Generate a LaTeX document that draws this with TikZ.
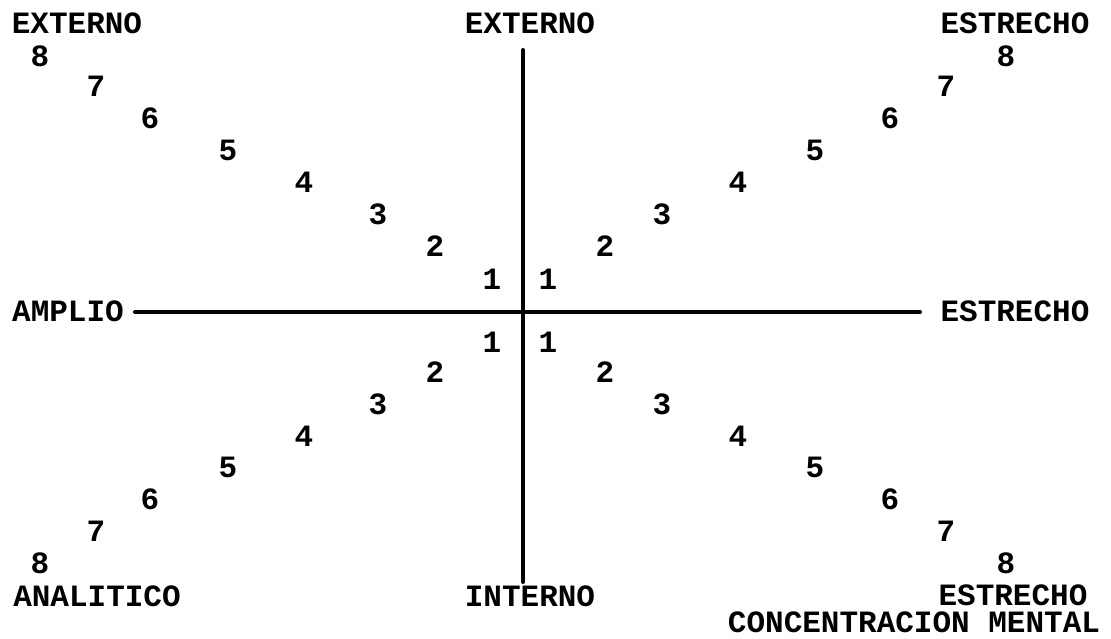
\documentclass[tikz,border=0pt]{standalone}
\usepackage{fontspec}
\setmonofont{Liberation Mono}
\usepackage{tikz}

\tikzset{
  lbl/.style={font=\ttfamily\bfseries\fontsize{31}{31}\selectfont, inner sep=0pt, text height=18pt, text depth=0pt},
  axis/.style={line width=4pt, line cap=round}
}

\begin{document}
\begin{tikzpicture}[x=1pt, y=-1pt, line cap=round, line join=round]
\useasboundingbox (0,0) rectangle (1111,639);

% axes
\coordinate (top) at (523,50);
\coordinate (bot) at (523,582);
\coordinate (lft) at (135,312);
\coordinate (rgt) at (920,312);
\draw[axis] (top)--(bot);
\draw[axis] (lft)--(rgt);

% labels
\node[lbl] (extl) at (77,25) {EXTERNO};
\node[lbl] (extc) at (530,25) {EXTERNO};
\node[lbl] (estr) at (1015,25) {ESTRECHO};
\node[lbl] (ampl) at (68,312) {AMPLIO};
\node[lbl] (estm) at (1015,312) {ESTRECHO};
\node[lbl] (anal) at (97,597) {ANALITICO};
\node[lbl] (intc) at (530,597) {INTERNO};
\node[lbl] (estb) at (1013,596) {ESTRECHO};
\node[lbl] (conc) at (914,623) {CONCENTRACION MENTAL};

% upper left
\node[lbl] (ul8) at (40,58) {8};
\node[lbl] (ul7) at (96,88) {7};
\node[lbl] (ul6) at (150,120) {6};
\node[lbl] (ul5) at (228,152) {5};
\node[lbl] (ul4) at (304,184) {4};
\node[lbl] (ul3) at (378,216) {3};
\node[lbl] (ul2) at (435,247) {2};
\node[lbl] (ul1) at (492,280) {1};

% upper right
\node[lbl] (ur1) at (548,280) {1};
\node[lbl] (ur2) at (605,247) {2};
\node[lbl] (ur3) at (662,216) {3};
\node[lbl] (ur4) at (738,184) {4};
\node[lbl] (ur5) at (815,152) {5};
\node[lbl] (ur6) at (890,120) {6};
\node[lbl] (ur7) at (946,88) {7};
\node[lbl] (ur8) at (1006,58) {8};

% lower left
\node[lbl] (ll1) at (492,343) {1};
\node[lbl] (ll2) at (435,373) {2};
\node[lbl] (ll3) at (378,405) {3};
\node[lbl] (ll4) at (304,437) {4};
\node[lbl] (ll5) at (228,468) {5};
\node[lbl] (ll6) at (150,500) {6};
\node[lbl] (ll7) at (96,532) {7};
\node[lbl] (ll8) at (40,564) {8};

% lower right
\node[lbl] (lr1) at (548,343) {1};
\node[lbl] (lr2) at (605,373) {2};
\node[lbl] (lr3) at (662,405) {3};
\node[lbl] (lr4) at (738,437) {4};
\node[lbl] (lr5) at (815,468) {5};
\node[lbl] (lr6) at (890,500) {6};
\node[lbl] (lr7) at (946,532) {7};
\node[lbl] (lr8) at (1006,564) {8};
\end{tikzpicture}
\end{document}
